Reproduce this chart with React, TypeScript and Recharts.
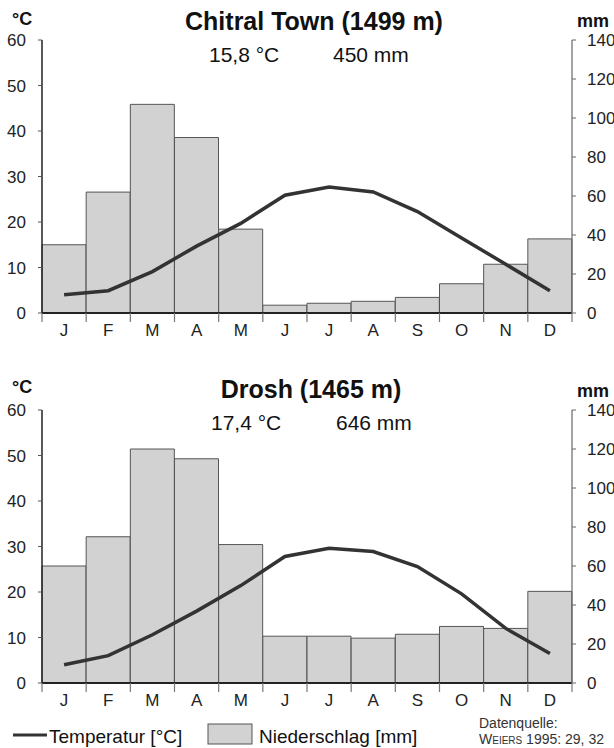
import React from "react";
import { ComposedChart, Bar, Line, XAxis, YAxis } from "recharts";

// climate data
const months = ["J", "F", "M", "A", "M", "J", "J", "A", "S", "O", "N", "D"];
const chitralTemp = [4.0, 4.9, 9.1, 14.7, 19.7, 25.9, 27.7, 26.6, 22.3, 16.5, 10.7, 4.9];
const chitralPrecip = [35, 62, 107, 90, 43, 4, 5, 6, 8, 15, 25, 38];
const droshTemp = [4.0, 6.0, 10.6, 15.8, 21.4, 27.8, 29.6, 28.9, 25.6, 19.6, 12.0, 6.5];
const droshPrecip = [60, 75, 120, 115, 71, 24, 24, 23, 25, 29, 28, 47];
const tempTicks = [0, 10, 20, 30, 40, 50, 60];
const precipTicks = [0, 20, 40, 60, 80, 100, 120, 140];

const FONT = "'Liberation Sans', Arial, Helvetica, sans-serif";
const W = 614;
const H = 345;
const AXIS_W = 42;
const BAND = (W - 2 * AXIS_W) / 12;

const buildRows = (temp: number[], precip: number[]) =>
  months.map((_, i) => ({ idx: i, temp: temp[i], precip: precip[i] }));

const MonthTick = (props: any) => {
  const { x, y, payload } = props;
  const i = payload.value as number;
  const half = BAND / 2;
  return (
    <g>
      <line x1={x - half} y1={y} x2={x - half} y2={y + 9} stroke="#777" strokeWidth={1.2} />
      {i === 11 && (
        <line x1={x + half} y1={y} x2={x + half} y2={y + 9} stroke="#777" strokeWidth={1.2} />
      )}
      <text x={x} y={y + 23} textAnchor="middle" fontSize={17} fill="#222" fontFamily={FONT}>
        {months[i]}
      </text>
    </g>
  );
};

const ClimateChart = ({ temp, precip }: { temp: number[]; precip: number[] }) => (
  <ComposedChart
    width={W}
    height={H}
    data={buildRows(temp, precip)}
    margin={{ top: 40, right: 0, bottom: 2, left: 0 }}
    barCategoryGap={0}
    barGap={0}
  >
    <XAxis
      dataKey="idx"
      height={30}
      interval={0}
      tickSize={0}
      tickMargin={0}
      tickLine={false}
      axisLine={{ stroke: "#222", strokeWidth: 2 }}
      tick={<MonthTick />}
    />
    <YAxis
      yAxisId="temp"
      orientation="left"
      width={AXIS_W}
      domain={[0, 60]}
      ticks={tempTicks}
      tickSize={4}
      tickMargin={12}
      axisLine={{ stroke: "#222", strokeWidth: 1.5 }}
      tickLine={{ stroke: "#555" }}
      tick={{ fill: "#222", fontSize: 17, fontFamily: FONT }}
    />
    <YAxis
      yAxisId="precip"
      orientation="right"
      width={AXIS_W}
      domain={[0, 140]}
      ticks={precipTicks}
      tickSize={4}
      tickMargin={11}
      axisLine={{ stroke: "#666", strokeWidth: 1.2 }}
      tickLine={{ stroke: "#666" }}
      tick={{ fill: "#222", fontSize: 17, fontFamily: FONT, textAnchor: "start" }}
    />
    <Bar
      yAxisId="precip"
      dataKey="precip"
      fill="#d2d2d2"
      stroke="#555"
      strokeWidth={1}
      isAnimationActive={false}
    />
    <Line
      yAxisId="temp"
      dataKey="temp"
      type="linear"
      stroke="#333"
      strokeWidth={3.5}
      dot={false}
      isAnimationActive={false}
    />
  </ComposedChart>
);

export default function App() {
  return (
    <div style={{ position: "absolute", left: 0, top: 0, width: W, height: 748, background: "#fff" }}>
      <div style={{ position: "absolute", left: 0, top: 0 }}>
        <ClimateChart temp={chitralTemp} precip={chitralPrecip} />
      </div>
      <div style={{ position: "absolute", left: 0, top: 370 }}>
        <ClimateChart temp={droshTemp} precip={droshPrecip} />
      </div>
      <svg
        width={W}
        height={748}
        style={{ position: "absolute", left: 0, top: 0, pointerEvents: "none" }}
        fontFamily={FONT}
        fill="#111"
      >
        {/* top station */}
        <text x={12} y={25} fontSize={18} fontWeight="bold">°C</text>
        <text x={577} y={27} fontSize={18} fontWeight="bold">mm</text>
        <text x={314} y={30} fontSize={25} fontWeight="bold" textAnchor="middle">
          Chitral Town (1499 m)
        </text>
        <text x={209} y={62} fontSize={21}>15,8 °C</text>
        <text x={333} y={62} fontSize={21}>450 mm</text>

        {/* bottom station */}
        <text x={12} y={393} fontSize={18} fontWeight="bold">°C</text>
        <text x={577} y={397} fontSize={18} fontWeight="bold">mm</text>
        <text x={311} y={398} fontSize={25} fontWeight="bold" textAnchor="middle">
          Drosh (1465 m)
        </text>
        <text x={211} y={430} fontSize={21}>17,4 °C</text>
        <text x={336} y={430} fontSize={21}>646 mm</text>

        {/* legend */}
        <line x1={13} y1={735} x2={47} y2={735} stroke="#333" strokeWidth={3} />
        <text x={49} y={743} fontSize={19}>Temperatur [°C]</text>
        <rect x={208} y={724} width={44} height={20} fill="#d2d2d2" stroke="#555" />
        <text x={259} y={743} fontSize={19}>Niederschlag [mm]</text>
        <text x={479} y={728} fontSize={14} fill="#333">Datenquelle:</text>
        <text x={479} y={744} fontSize={14} fill="#333" style={{ fontVariant: "small-caps" }}>
          Weiers 1995: 29, 32
        </text>
      </svg>
    </div>
  );
}
